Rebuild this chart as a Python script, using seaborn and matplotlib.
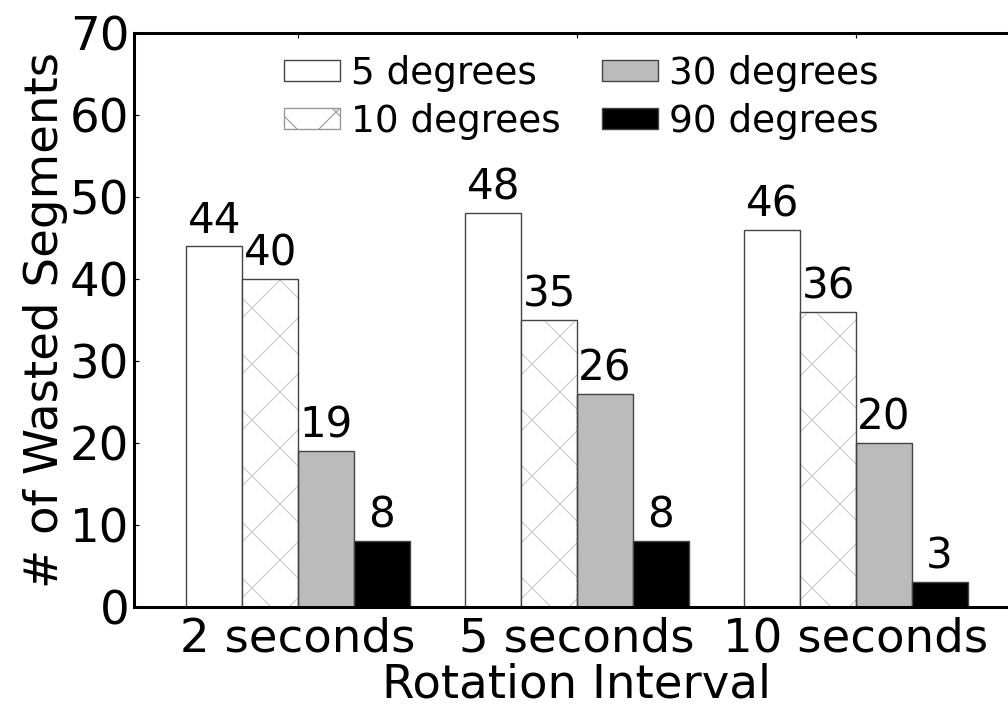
import pandas as pd
import matplotlib
matplotlib.use('Agg')
import matplotlib.pyplot as plt
from matplotlib.patches import Rectangle
import seaborn as sns

intervals = ['2 seconds', '5 seconds', '10 seconds']
angles = ['5 degrees', '10 degrees', '30 degrees', '90 degrees']
wasted_5 = [44, 48, 46]
wasted_10 = [40, 35, 36]
wasted_30 = [19, 26, 20]
wasted_90 = [8, 8, 3]

rows = []
for name, vals in zip(angles, [wasted_5, wasted_10, wasted_30, wasted_90]):
    for iv, v in zip(intervals, vals):
        rows.append({'Interval': iv, 'Angle': name, 'Wasted': v})
data = pd.DataFrame(rows)

sns.set_style('ticks')
plt.rcParams['font.family'] = ['DejaVu Sans']
plt.rcParams['hatch.linewidth'] = 0.5
for k in ['text.color', 'axes.labelcolor', 'xtick.color', 'ytick.color', 'axes.edgecolor']:
    plt.rcParams[k] = 'black'

fig = plt.figure(figsize=(6, 706 / 168), dpi=168)
ax = fig.add_axes([134 / 1008, 99 / 706, 886 / 1008, 574 / 706])

sns.barplot(data=data, x='Interval', y='Wasted', hue='Angle', hue_order=angles,
            order=intervals, width=0.8, legend=False, ax=ax, errorbar=None)

faces = ['white', 'white', '#bbbbbb', 'black']
hatches = [None, 'x', None, None]
for cont, fc, h in zip(ax.containers, faces, hatches):
    for p in cont:
        p.set_facecolor(fc)
        p.set_edgecolor('#444444')
        p.set_linewidth(0.6)
        if h:
            # hatch follows the edge colour, so light edge + dark outline on top
            p.set_hatch(h)
            p.set_edgecolor('#cccccc')
            p.set_linewidth(0)
            ax.add_patch(Rectangle(p.get_xy(), p.get_width(), p.get_height(),
                                   fill=False, edgecolor='#444444', linewidth=0.6))
    ax.bar_label(cont, fontsize=18, padding=2)

ax.set_xlim(-0.588, 2.588)
ax.set_ylim(0, 70)
ax.set_yticks(range(0, 71, 10))
for s in ax.spines.values():
    s.set_visible(True)
    s.set_linewidth(1.3)
ax.tick_params(direction='in', length=2, width=0.5, top=True, right=True, labelsize=20)
ax.tick_params(axis='y', pad=2)
ax.tick_params(axis='x', pad=4)
ax.set_xlabel('Rotation Interval', fontsize=20, labelpad=0.5)
ax.set_ylabel('# of Wasted Segments', fontsize=20, labelpad=1)

leg_handles = []
for fc, h in zip(faces, hatches):
    if h:
        leg_handles.append(Rectangle((0, 0), 1, 1, facecolor=fc, edgecolor='#999999',
                                     linewidth=0.6, hatch=h))
    else:
        leg_handles.append(Rectangle((0, 0), 1, 1, facecolor=fc, edgecolor='#444444',
                                     linewidth=0.6))
ax.legend(handles=leg_handles, labels=angles, loc='upper center', bbox_to_anchor=(0.505, 1.021),
          ncol=2, frameon=False, fontsize=16, handlelength=1.5, handleheight=0.5,
          handletextpad=0.3, columnspacing=1.1, labelspacing=0.3)

fig.savefig('out.png', dpi=168)
